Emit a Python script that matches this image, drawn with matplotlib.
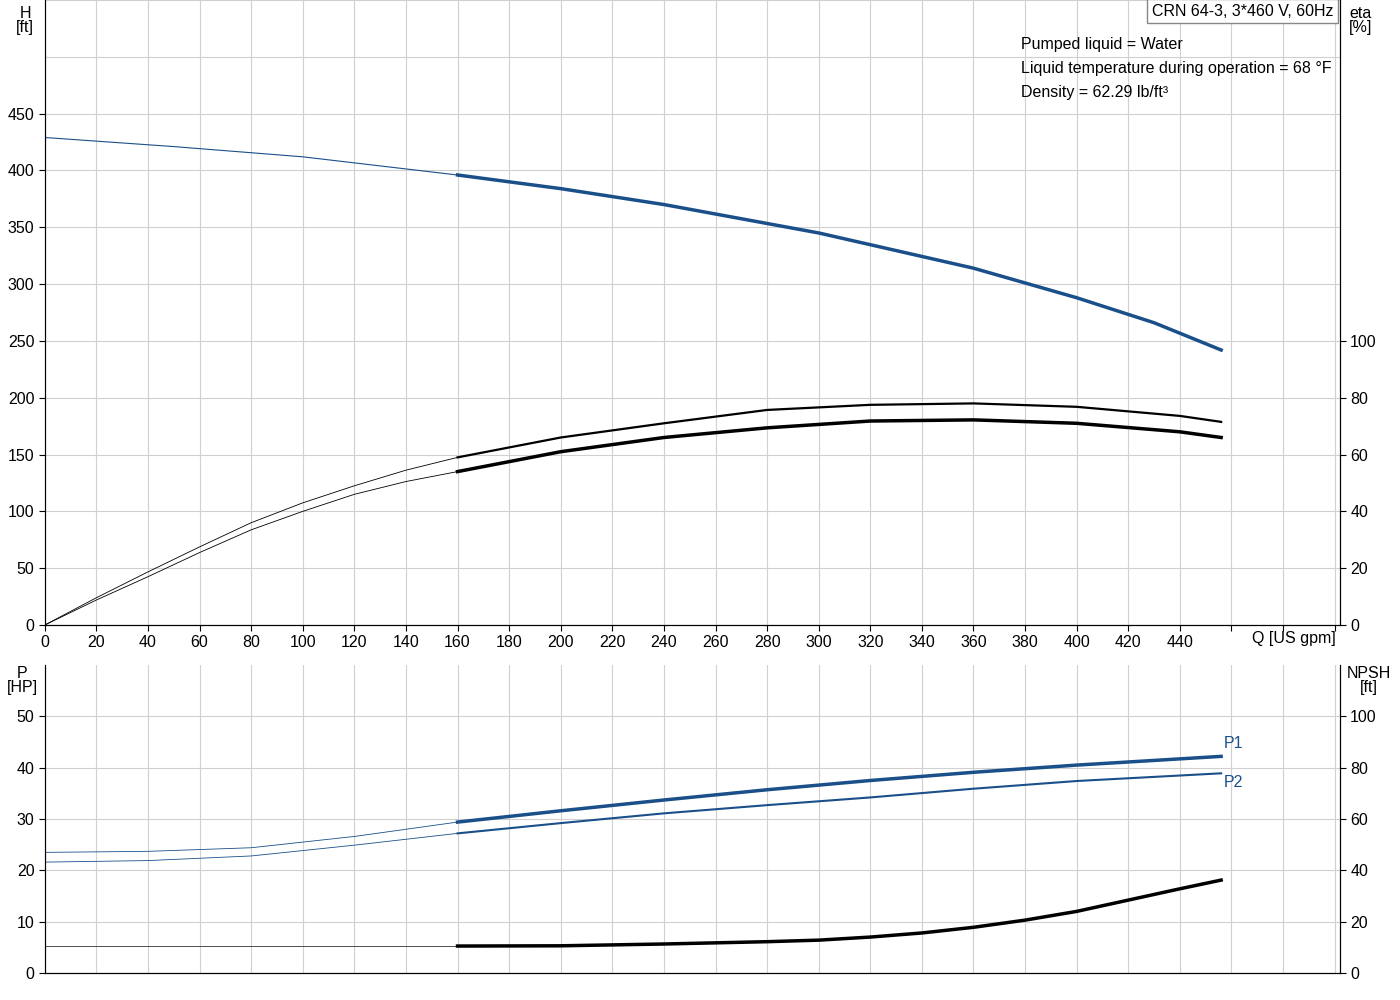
import matplotlib
matplotlib.use("Agg")
import matplotlib.pyplot as plt
import numpy as np

plt.rcParams['font.family'] = ['Liberation Sans', 'DejaVu Sans']

BLUE = "#1a4f8a"
q_h = [0, 50, 100, 160, 200, 240, 300, 360, 400, 430, 456]
h = [429, 421, 412, 396, 384, 370, 345, 314, 288, 266, 242]
q_e = [0, 20, 40, 60, 80, 100, 120, 140, 160, 200, 240, 280, 320, 360, 400, 440, 456]
eta1 = [0, 9.6, 18.7, 27.5, 36, 43, 49, 54.5, 59, 66, 71, 75.7, 77.5, 78, 76.8, 73.6, 71.5]
eta2 = [0, 8.8, 17, 25.5, 33.5, 40, 46, 50.5, 54, 61, 66, 69.4, 71.8, 72.2, 71, 68, 66]
q_p = [0, 40, 80, 120, 160, 200, 240, 280, 320, 360, 400, 456]
p1 = [23.5, 23.7, 24.4, 26.6, 29.4, 31.6, 33.7, 35.7, 37.5, 39.1, 40.5, 42.2]
p2 = [21.6, 21.9, 22.8, 24.9, 27.2, 29.2, 31.1, 32.7, 34.2, 35.9, 37.4, 38.9]
q_n = [0, 160, 200, 240, 280, 300, 320, 340, 360, 380, 400, 420, 440, 456]
npsh = [10.5, 10.5, 10.6, 11.3, 12.2, 12.8, 14.0, 15.6, 17.8, 20.6, 24.0, 28.4, 32.8, 36.2]

def split(q, v):
    q = np.array(q, float); v = np.array(v, float)
    a = q <= 160; b = q >= 160
    return (q[a], v[a]), (q[b], v[b])

fig = plt.figure(figsize=(14, 10), dpi=100)
ax = fig.add_axes([0.032, 0.375, 0.925, 0.625])
ax2 = ax.twinx()
bx = fig.add_axes([0.032, 0.027, 0.925, 0.308])
bx2 = bx.twinx()

for a in (ax, bx):
    a.set_xlim(0, 502)
    a.set_xticks(np.arange(0, 501, 20))
    a.grid(True, color="#d0d0d0", lw=0.8)
    a.tick_params(labelsize=11.5, length=4)
    a.spines["top"].set_visible(False)
    a.spines["left"].set_color("#444")
ax.set_xticklabels([str(v) if v <= 440 else "" for v in range(0, 501, 20)])
bx.set_xticklabels([])
bx.tick_params(axis="x", length=0)
ax.set_ylim(0, 550)
ax.set_yticks(np.arange(0, 451, 50))
for yv in (500, 550):
    ax.axhline(yv, color="#d0d0d0", lw=0.8)
ax2.set_ylim(0, 220)
ax2.set_yticks(np.arange(0, 101, 20))
bx.set_ylim(0, 60)
bx.set_yticks(np.arange(0, 51, 10))
bx2.set_ylim(0, 120)
bx2.set_yticks(np.arange(0, 101, 20))
for a in (ax2, bx2):
    a.tick_params(labelsize=11.5, length=4)
    a.spines["top"].set_visible(False)

(l, r) = split(q_h, h)
ax.plot(*l, color=BLUE, lw=0.8); ax.plot(*r, color=BLUE, lw=2.5)
for e, lw in ((eta1, 1.6), (eta2, 2.5)):
    (l, r) = split(q_e, e)
    ax2.plot(*l, color="black", lw=0.6); ax2.plot(*r, color="black", lw=lw)
for p, lw in ((p1, 2.5), (p2, 1.5)):
    (l, r) = split(q_p, p)
    bx.plot(*l, color=BLUE, lw=0.6); bx.plot(*r, color=BLUE, lw=lw)
(l, r) = split(q_n, npsh)
bx2.plot(*l, color="#333", lw=0.6); bx2.plot(*r, color="black", lw=2.5)
bx.text(457, 43.2, "P1", color=BLUE, fontsize=11.5, ha="left", va="bottom")
bx.text(457, 38.6, "P2", color=BLUE, fontsize=11.5, ha="left", va="top")

fs = 11.5
fig.text(0.018, 0.994, "H\n[ft]", ha="center", va="top", fontsize=fs, linespacing=0.95)
fig.text(0.972, 0.994, "eta\n[%]", ha="center", va="top", fontsize=fs, linespacing=0.95)
fig.text(0.016, 0.334, "P\n[HP]", ha="center", va="top", fontsize=fs, linespacing=0.95)
fig.text(0.978, 0.334, "NPSH\n[ft]", ha="center", va="top", fontsize=fs, linespacing=0.95)
fig.text(0.924, 0.362, "Q [US gpm]", ha="center", va="center", fontsize=fs)
fig.text(0.8225, 0.989, "CRN 64-3, 3*460 V, 60Hz", ha="left", va="center", fontsize=fs,
         bbox=dict(boxstyle="square,pad=0.3", fc="white", ec="#888"))
fig.text(0.729, 0.956, "Pumped liquid = Water", ha="left", va="center", fontsize=fs)
fig.text(0.729, 0.932, "Liquid temperature during operation = 68 °F", ha="left", va="center", fontsize=fs)
fig.text(0.729, 0.908, "Density = 62.29 lb/ft³", ha="left", va="center", fontsize=fs)
fig.savefig("out.png", dpi=100)
